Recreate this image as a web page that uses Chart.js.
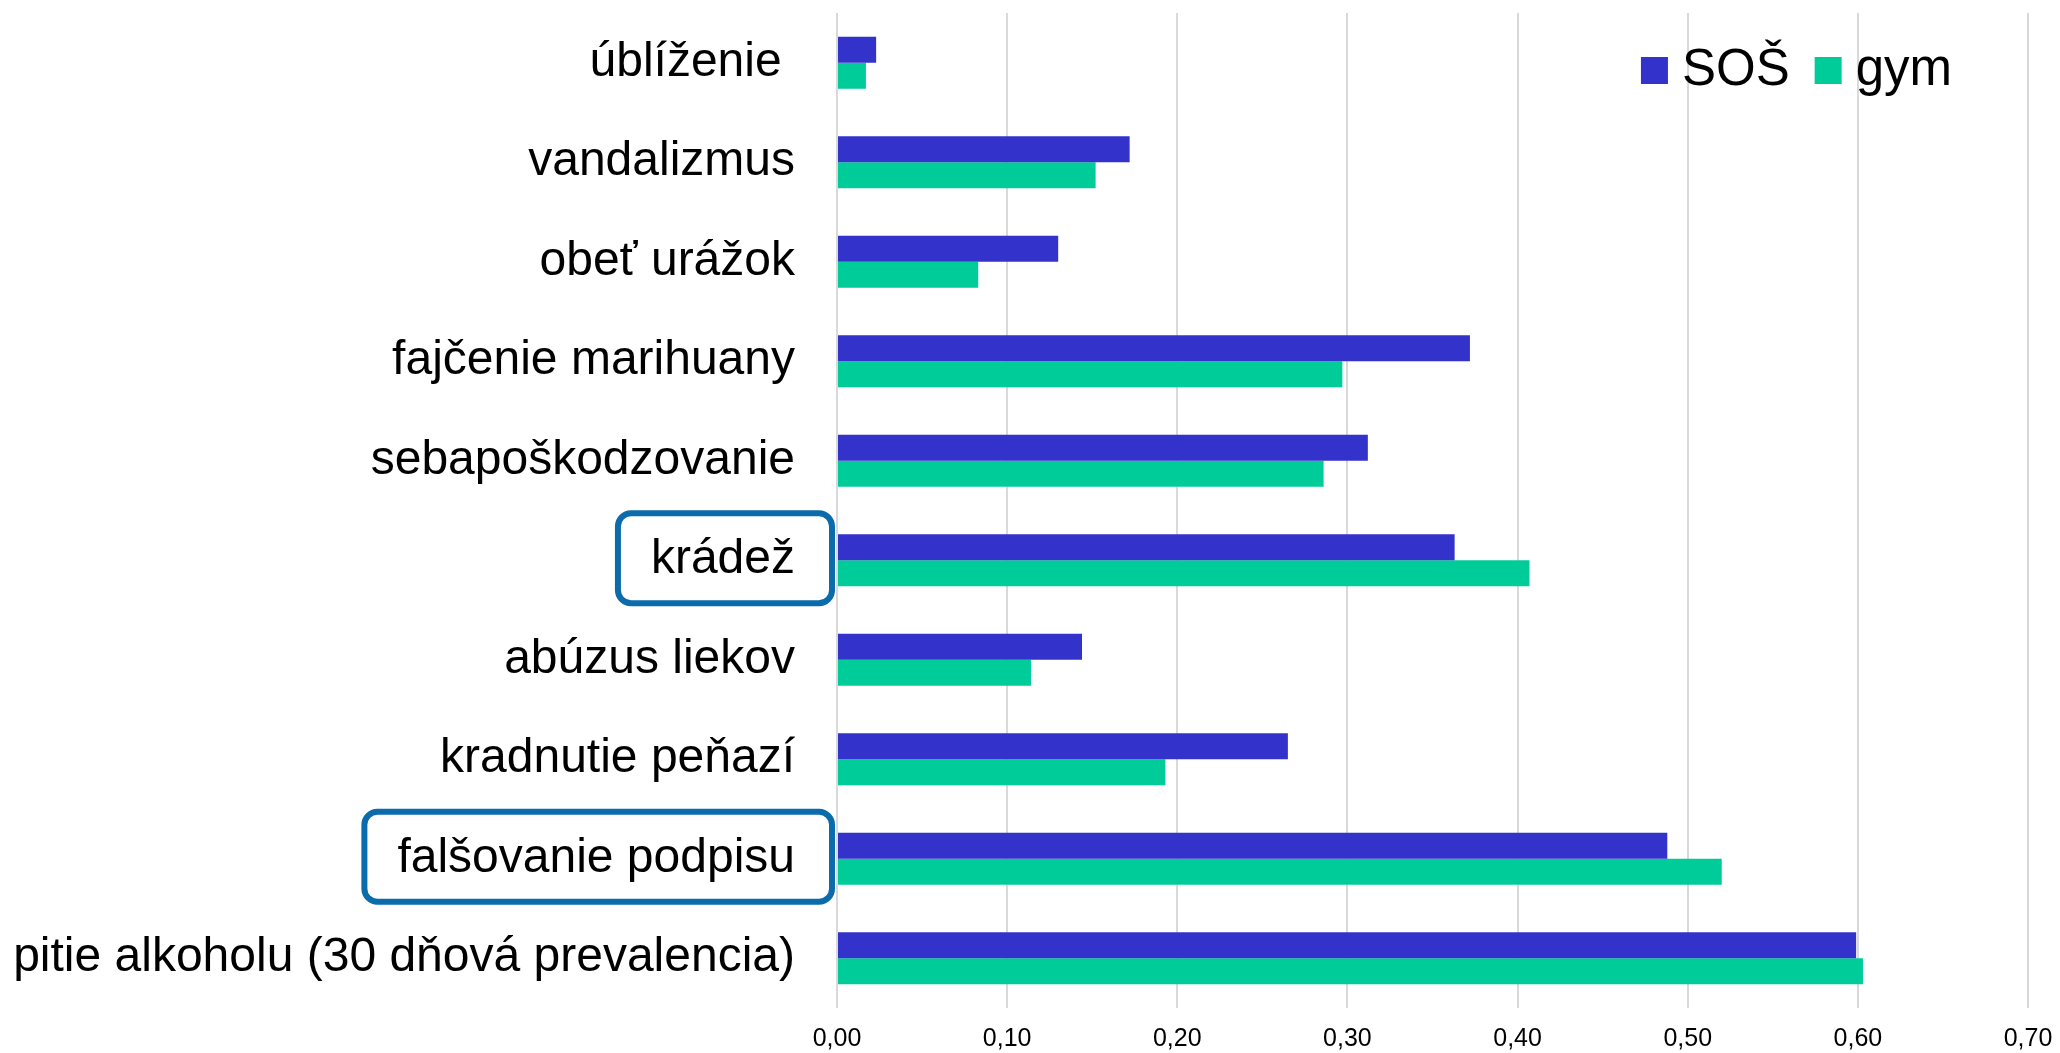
<!DOCTYPE html>
<html>
<head>
<meta charset="utf-8">
<script src="https://cdn.jsdelivr.net/npm/chart.js@4.4.1/dist/chart.umd.min.js"></script>
<style>
  html, body { margin: 0; padding: 0; background: #fff; }
  #wrap { width: 2060px; height: 1053px; }
</style>
</head>
<body>
<div id="wrap"><canvas id="chart" width="2060" height="1053"></canvas></div>
<script>
const categories = [
  'úblíženie ',
  'vandalizmus',
  'obeť urážok',
  'fajčenie marihuany',
  'sebapoškodzovanie',
  'krádež',
  'abúzus liekov',
  'kradnutie peňazí',
  'falšovanie podpisu',
  'pitie alkoholu (30 dňová prevalencia)'
];
const sosValues = [0.023, 0.172, 0.130, 0.372, 0.312, 0.363, 0.144, 0.265, 0.488, 0.599];
const gymValues = [0.017, 0.152, 0.083, 0.297, 0.286, 0.407, 0.114, 0.193, 0.520, 0.603];
const xTickLabels = ['0,00', '0,10', '0,20', '0,30', '0,40', '0,50', '0,60', '0,70'];
const highlighted = ['krádež', 'falšovanie podpisu'];

const FONT = '"Liberation Sans", Arial, sans-serif';
const LABEL_SIZE = 48;

// draws the legend in the top right corner of the plot
const cornerLegend = {
  id: 'cornerLegend',
  afterDraw(chart) {
    const ctx = chart.ctx;
    const area = chart.chartArea;
    const box = 27, gapText = 14, gapItem = 25;
    ctx.save();
    ctx.font = '51px ' + FONT;
    const items = chart.data.datasets.map(ds => ({
      text: ds.label, color: ds.backgroundColor, w: ctx.measureText(ds.label).width
    }));
    let total = 0;
    items.forEach((it, i) => { total += box + gapText + it.w + (i ? gapItem : 0); });
    let x = area.right - 76 - total;
    const top = area.top + 44;
    items.forEach(it => {
      ctx.fillStyle = it.color;
      ctx.fillRect(x, top, box, box);
      x += box + gapText;
      ctx.fillStyle = '#000';
      ctx.textBaseline = 'alphabetic';
      ctx.fillText(it.text, x, top + 28);
      x += it.w + gapItem;
    });
    ctx.restore();
  }
};

// rounded boxes round some of the category labels
const labelBoxes = {
  id: 'labelBoxes',
  afterDraw(chart) {
    const ctx = chart.ctx;
    const yScale = chart.scales.y;
    const textRight = chart.chartArea.left - 42;
    ctx.save();
    ctx.font = LABEL_SIZE + 'px ' + FONT;
    ctx.strokeStyle = '#0b6bab';
    ctx.lineWidth = 6;
    highlighted.forEach(name => {
      const i = categories.indexOf(name);
      const cy = yScale.getPixelForTick(i) - 2;
      const w = ctx.measureText(name).width;
      const x0 = textRight - w - 33, x1 = textRight + 37;
      const y0 = cy - 45, y1 = cy + 45, r = 13;
      ctx.beginPath();
      ctx.moveTo(x0 + r, y0);
      ctx.arcTo(x1, y0, x1, y1, r);
      ctx.arcTo(x1, y1, x0, y1, r);
      ctx.arcTo(x0, y1, x0, y0, r);
      ctx.arcTo(x0, y0, x1, y0, r);
      ctx.closePath();
      ctx.stroke();
    });
    ctx.restore();
  }
};

new Chart(document.getElementById('chart'), {
  type: 'bar',
  data: {
    labels: categories,
    datasets: [
      { label: 'SOŠ', data: sosValues, backgroundColor: '#3333cc' },
      { label: 'gym', data: gymValues, backgroundColor: '#00cc99' }
    ]
  },
  options: {
    indexAxis: 'y',
    responsive: false,
    animation: false,
    devicePixelRatio: 1,
    categoryPercentage: 0.523,
    barPercentage: 1.0,
    layout: { padding: { left: 0, right: 32, top: 13, bottom: 0 } },
    plugins: {
      legend: { display: false },
      tooltip: { enabled: false }
    },
    scales: {
      x: {
        min: 0,
        max: 0.7,
        ticks: {
          stepSize: 0.1,
          padding: 16,
          maxRotation: 0,
          color: '#000',
          font: { family: FONT, size: 25 },
          callback: (v, i) => xTickLabels[i]
        },
        grid: { color: '#d9d9d9', lineWidth: 2, drawTicks: false },
        border: { display: false },
        afterFit: s => {
          s.height = 45;
          s.paddingLeft = 0; s.paddingRight = 0;
        }
      },
      y: {
        ticks: {
          padding: 42,
          color: '#000',
          font: { family: FONT, size: LABEL_SIZE }
        },
        grid: { display: false, drawTicks: false },
        border: { display: false },
        afterFit: s => {
          s.width = 837;
          s.paddingTop = 0; s.paddingBottom = 0;
        }
      }
    }
  },
  plugins: [cornerLegend, labelBoxes]
});
</script>
</body>
</html>
